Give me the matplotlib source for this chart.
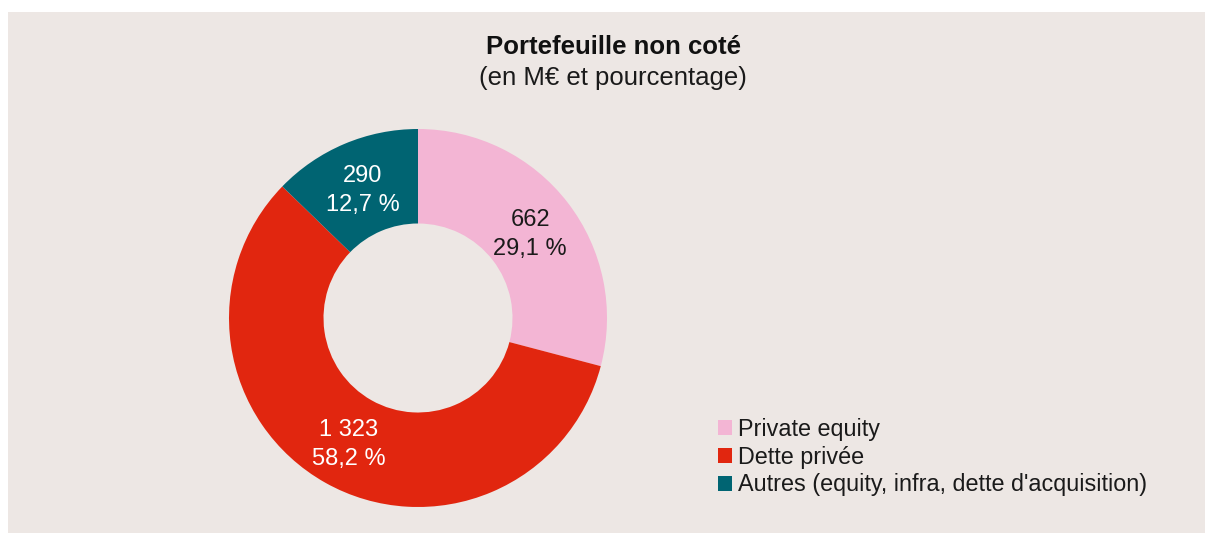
import matplotlib
matplotlib.use('Agg')
import matplotlib.pyplot as plt
from matplotlib.patches import Rectangle
import numpy as np

plt.rcParams['font.family'] = ['Liberation Sans', 'DejaVu Sans']

categories = ['Private equity', 'Dette privée', "Autres (equity, infra, dette d'acquisition)"]
values = [662, 1323, 290]
colors = ['#f3b5d4', '#e1260f', '#006472']
label_colors = ['#1a1a1a', 'white', 'white']

bg = '#ede7e4'
W, H = 1205, 533

fig = plt.figure(figsize=(W / 100, H / 100), dpi=100, facecolor='white')
# beige panel, behind everything
fig.patches.append(Rectangle((8 / W, 0), 1 - 8 / W, 1 - 12 / H,
                             transform=fig.transFigure, facecolor=bg,
                             edgecolor='none', zorder=-10))

# donut axes: centre (418, 318), radius 189 px
ax = fig.add_axes([229 / W, (H - 507) / H, 378 / W, 378 / H])
ax.set_facecolor('none')
wedges, _ = ax.pie(values, colors=colors, startangle=90, counterclock=False,
                   radius=1, wedgeprops=dict(width=0.5, linewidth=0))
ax.set_xlim(-1, 1)
ax.set_ylim(-1, 1)
ax.set_aspect('equal')
ax.axis('off')

total = sum(values)


def fmt_val(v):
    return '{:,}'.format(v).replace(',', ' ')


for w, v, c in zip(wedges, values, label_colors):
    ang = np.deg2rad((w.theta1 + w.theta2) / 2)
    pct = ('%.1f' % (100 * v / total)).replace('.', ',')
    ax.text(0.75 * np.cos(ang), 0.75 * np.sin(ang) - 0.015,
            fmt_val(v) + '\n' + pct + ' %', ha='center', va='center',
            fontsize=17, color=c, linespacing=1.38)

fig.text(613 / W, 1 - 54 / H, 'Portefeuille non coté', ha='center',
         va='baseline', fontsize=18.5, fontweight='bold', color='#111111')
fig.text(613 / W, 1 - 85 / H, '(en M€ et pourcentage)', ha='center',
         va='baseline', fontsize=18.5, color='#1a1a1a')

fig.legend(wedges, categories, loc='upper left',
           bbox_to_anchor=(718 / W, 1 - 418 / H), frameon=False,
           fontsize=16.8, handlelength=0.6, handleheight=0.6,
           handletextpad=0.25, labelspacing=0.2, borderpad=0,
           borderaxespad=0, labelcolor='#1a1a1a')

fig.savefig('out.png', dpi=100, facecolor='white')
